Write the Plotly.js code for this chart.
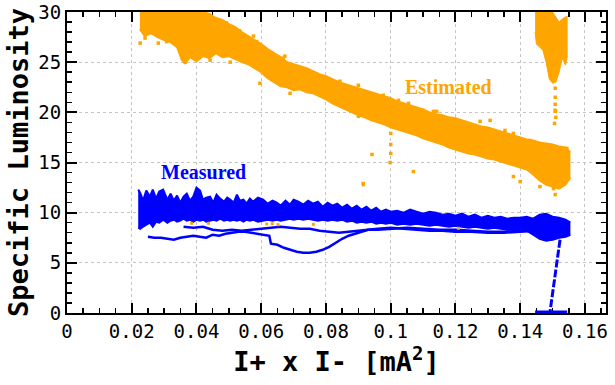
<!DOCTYPE html>
<html>
<head>
<meta charset="utf-8">
<script src="https://cdn.plot.ly/plotly-3.0.1.min.js"></script>
<style>html,body{margin:0;padding:0;background:#fff;}#chart{width:615px;height:385px;}</style>
</head>
<body>
<div id="chart"></div>
<script>
// ---- Estimated (orange) dense band: x, lower edge, upper edge ----
const estX = [0.0225,0.0240,0.0260,0.0280,0.0300,0.0320,0.0340,0.0355,0.0365,0.0380,0.0400,0.0420,0.0440,0.0460,0.0480,0.0500,0.0520,0.0540,0.0560,0.0580,0.0600,0.0620,0.0640,0.0660,0.0680,0.0700,0.0720,0.0740,0.0760,0.0780,0.0800,0.0820,0.0840,0.0860,0.0880,0.0900,0.0920,0.0940,0.0960,0.0980,0.1000,0.1020,0.1040,0.1060,0.1080,0.1100,0.1120,0.1140,0.1160,0.1180,0.1200,0.1220,0.1240,0.1260,0.1280,0.1300,0.1320,0.1340,0.1360,0.1380,0.1400,0.1420,0.1440,0.1460,0.1480,0.1500,0.1520,0.1540,0.1555];
const estUpper = [30,30,30,30,30,30,30,30,30,30,30,30,29.8,29.4,29.2,28.8,28.5,28.0,27.6,27.2,26.8,26.3,25.9,25.5,25.0,24.8,24.6,24.4,24.1,23.8,23.6,23.3,23.0,22.8,22.6,22.4,22.2,22.0,21.8,21.6,21.4,21.1,20.9,20.7,20.5,20.3,20.0,19.8,19.7,19.5,19.4,19.2,19.0,18.8,18.6,18.5,18.3,18.1,17.9,17.7,17.5,17.3,17.2,17.0,16.9,16.8,16.6,16.5,16.0];
const estLower = [28.3,27.6,27.9,27.5,27.2,27.0,26.5,25.2,24.9,25.5,25.1,25.6,25.4,25.9,25.5,25.6,25.3,25.0,24.8,24.4,24.0,23.4,23.0,22.6,22.5,22.2,22.3,22.0,21.9,21.6,21.3,20.9,20.6,20.3,20.0,19.7,19.5,19.2,19.0,18.8,18.5,18.3,18.1,17.9,17.7,17.4,17.2,17.0,16.8,16.5,16.3,16.1,15.9,15.8,15.6,15.4,15.3,15.1,14.9,14.7,14.5,14.3,13.8,13.2,12.8,12.6,12.4,12.8,13.5];

// scattered estimated points outside the dense band
const estDotX = [0.0226,0.0241,0.0282,0.0308,0.0365,0.0442,0.0504,0.0493,0.0534,0.0560,0.0576,0.0586,0.0627,0.0668,0.0648,0.0596,0.0673,0.0689,0.0843,0.0900,0.0977,0.1024,0.1055,0.1100,0.1132,0.0900,0.1000,0.1000,0.1000,0.0998,0.0942,0.0915,0.1070,0.1142,0.1276,0.1307,0.1353,0.1379,0.1430,0.1379,0.1400,0.1503,0.1508,0.1461,0.1544,0.1508,0.1508,0.1508,0.1508,0.1510,0.1506,0.1509];
const estDotY = [26.9,27.4,26.9,27.05,25.0,25.2,25.0,28.9,28.1,27.4,27.6,27.05,25.4,25.4,24.9,22.9,25.6,21.9,23.1,22.7,21.7,21.2,20.9,20.2,20.1,19.6,17.9,16.8,15.9,15.0,15.8,12.9,14.1,20.1,19.1,19.2,18.2,17.9,17.2,13.6,13.1,12.4,11.8,12.6,16.4,22.4,21.5,20.8,20.2,19.5,18.9,20.1];

// spike of estimated points near the end (outline)
const spikeX = [0.1446,0.1480,0.1500,0.1520,0.1530,0.1545,0.1545,0.1540,0.1530,0.1520,0.1510,0.1500,0.1490,0.1480,0.1470,0.1460,0.1450,0.1446];
const spikeY = [30,30,30,29.0,29.3,29.6,25.5,24.7,25.4,24.0,23.0,22.9,23.3,25.0,26.2,26.5,26.8,28.0];

// estimated points lying near the measured band
const estLowX = [0.0385,0.0437,0.0617,0.0634,0.0652,0.0761,0.0915,0.1209];
const estLowY = [8.94,8.94,8.87,8.9,8.8,8.84,12.76,8.44];

// ---- Measured (blue) main band ----
const measX = [0.0220,0.0226,0.0235,0.0245,0.0256,0.0265,0.0275,0.0285,0.0297,0.0310,0.0320,0.0330,0.0340,0.0350,0.0360,0.0370,0.0380,0.0390,0.0400,0.0411,0.0420,0.0430,0.0442,0.0452,0.0462,0.0473,0.0485,0.0495,0.0504,0.0515,0.0525,0.0534,0.0545,0.0555,0.0565,0.0575,0.0590,0.0606,0.0620,0.0635,0.0648,0.0660,0.0675,0.0689,0.0700,0.0715,0.0730,0.0745,0.0760,0.0775,0.0790,0.0805,0.0820,0.0835,0.0850,0.0865,0.0880,0.0895,0.0910,0.0925,0.0940,0.0955,0.0970,0.0985,0.1000,0.1020,0.1040,0.1060,0.1080,0.1100,0.1120,0.1140,0.1160,0.1180,0.1200,0.1220,0.1240,0.1260,0.1280,0.1300,0.1320,0.1340,0.1360,0.1380,0.1400,0.1420,0.1440,0.1460,0.1480,0.1500,0.1520,0.1540,0.1555];
const measUpper = [12.3,12.0,11.2,12.2,11.6,12.3,11.4,12.1,12.3,11.3, 11.9,11.2,11.7,11.0,11.6,11.9,11.2,11.6,12.5,12.2, 11.3,11.5,11.6,11.0,11.8,11.4,11.1,11.5,11.3,11.0, 11.8,11.2,11.3,10.9,11.4,11.1,11.5,11.3,10.9,11.2, 11.0,10.7,11.2,10.8,11.3,11.1,10.8,11.2,10.9,11.1, 10.6,11.0,10.7,10.9,10.5,10.8,10.4,10.7,10.3,10.6, 10.2,10.5,10.1,10.3,10.1,10.2,10.0,10.3,10.1,9.9, 10.1,10.0,9.8,9.9,9.7,9.9,9.6,9.8,9.5,9.7, 9.5,9.6,9.4,9.5,9.5,9.6,9.4,9.8,9.9,9.6, 9.5,9.3,9.0];
const measLower = [8.5,8.4,8.6,8.8,9.0,8.6,9.1,9.0,9.3,9.0, 9.2,9.3,9.1,9.2,9.4,9.2,9.3,9.1,9.3,9.2, 9.3,9.1,9.2,9.3,9.2,9.4,9.2,9.3,9.2,9.3, 9.2,9.3,9.1,9.3,9.2,9.3,9.1,9.2,9.3,9.2, 9.3,9.2,9.3,9.4,9.3,9.4,9.3,9.4,9.3,9.2, 9.3,9.2,9.3,9.2,9.3,9.1,9.2,9.0,9.1,9.0, 9.1,8.9,9.0,8.9,9.0,8.8,8.9,8.8,8.9,8.8, 8.7,8.8,8.7,8.6,8.7,8.6,8.5,8.6,8.5,8.4, 8.5,8.4,8.3,8.4,8.3,8.2,7.8,7.4,7.2,7.3, 7.5,7.6,7.8];

// measured thin tracks below the main band
const trackAX = [0.0360,0.0390,0.0420,0.0450,0.0480,0.0510,0.0540,0.0570,0.0600,0.0630,0.0660,0.0690,0.0720,0.0750,0.0780,0.0810,0.0840,0.0870,0.0900,0.0930,0.0960,0.1000,0.1050,0.1100,0.1150,0.1200,0.1250,0.1300,0.1350,0.1400];
const trackAY = [8.6,8.5,8.6,8.3,8.2,8.3,8.2,8.3,8.4,8.5,8.6,8.5,8.4,8.4,8.2,8.1,8.0,8.1,8.2,8.3,8.3,8.4,8.5,8.4,8.3,8.3,8.2,8.1,8.1,8.2];
const trackBX = [0.0250,0.0270,0.0290,0.0310,0.0330,0.0350,0.0370,0.0390,0.0410,0.0430,0.0450,0.0470,0.0490,0.0510,0.0530,0.0550,0.0570,0.0590,0.0610,0.0625,0.0630,0.0650,0.0670,0.0690,0.0710,0.0730,0.0750,0.0770,0.0790,0.0810,0.0830,0.0850,0.0870,0.0890,0.0910,0.0930,0.0960,0.1000,0.1040,0.1080,0.1120,0.1160,0.1200,0.1250,0.1300,0.1350,0.1400,0.1450];
const trackBY = [7.6,7.5,7.5,7.4,7.3,7.5,7.6,7.7,7.6,7.5,7.8,7.7,7.9,8.0,8.1,8.1,8.0,7.9,7.8,7.7,6.9,6.8,6.5,6.3,6.1,6.0,6.0,6.1,6.3,6.6,7.0,7.4,7.7,7.9,8.1,8.3,8.4,8.5,8.4,8.3,8.2,8.2,8.1,8.1,8.0,8.0,8.1,8.2];
const dropX = [0.1523,0.1515,0.1505,0.1498,0.1492];
const dropY = [7.3,5.5,3.5,1.8,0.1];
const baseX = [0.1446,0.1545];
const baseY = [0.1,0.1];

// ---- axis ticks ----
const xTickVals = [0,0.02,0.04,0.06,0.08,0.1,0.12,0.14,0.16];
const xTickText = ['0','0.02','0.04','0.06','0.08','0.1','0.12','0.14','0.16'];
const yTickVals = [0,5,10,15,20,25,30];
const yTickText = ['0','5','10','15','20','25','30'];

const ORANGE = '#FFA500', BLUE = '#0000FF';
const traces = [
  {x: estX, y: estLower, mode:'lines', line:{color:ORANGE, width:2}, hoverinfo:'skip'},
  {x: estX, y: estUpper, mode:'lines', line:{color:ORANGE, width:2}, fill:'tonexty', fillcolor:ORANGE, hoverinfo:'skip'},
  {x: spikeX, y: spikeY, mode:'lines', line:{color:ORANGE, width:1}, fill:'toself', fillcolor:ORANGE, hoverinfo:'skip'},
  {x: estDotX, y: estDotY, mode:'markers', marker:{color:ORANGE, size:3.5, symbol:'square'}, hoverinfo:'skip'},
  {x: measX, y: measLower, mode:'lines', line:{color:BLUE, width:2}, hoverinfo:'skip'},
  {x: measX, y: measUpper, mode:'lines', line:{color:BLUE, width:2}, fill:'tonexty', fillcolor:BLUE, hoverinfo:'skip'},
  {x: trackAX, y: trackAY, mode:'lines', line:{color:BLUE, width:2.5}, hoverinfo:'skip'},
  {x: trackBX, y: trackBY, mode:'lines', line:{color:BLUE, width:2.5}, hoverinfo:'skip'},
  {x: dropX, y: dropY, mode:'lines', line:{color:BLUE, width:3, dash:'8px,2px'}, hoverinfo:'skip'},
  {x: baseX, y: baseY, mode:'lines', line:{color:BLUE, width:3}, hoverinfo:'skip', cliponaxis:false},
  {x: estLowX, y: estLowY, mode:'markers', marker:{color:ORANGE, size:3, symbol:'square'}, hoverinfo:'skip'}
];

const tickFont = {family:'DejaVu Sans Mono', size:19, color:'#000'};
const layout = {
  width:615, height:385,
  margin:{l:67, r:9, t:12, b:72},
  paper_bgcolor:'#fff', plot_bgcolor:'#fff',
  showlegend:false,
  xaxis:{
    range:[0,0.1665], tickmode:'array', tickvals:xTickVals, ticktext:xTickText,
    ticks:'inside', ticklen:10, tickwidth:2, tickcolor:'#000',
    showline:true, linewidth:2, linecolor:'#000', mirror:'allticks',
    showgrid:true, gridcolor:'#c4c4c4', gridwidth:1, griddash:'dot',
    zeroline:false, tickfont:tickFont, layer:'below traces',
    minor:{dtick:0.005, tick0:0, ticks:'inside', ticklen:5, tickwidth:1.5, tickcolor:'#000', showgrid:false},
    title:{text:'I+ x I- [mA<sup>2</sup>]', font:{family:'DejaVu Sans Mono', size:27, color:'#000', weight:'bold'}, standoff:6}
  },
  yaxis:{
    range:[0,30], tickmode:'array', tickvals:yTickVals, ticktext:yTickText,
    ticks:'inside', ticklen:10, tickwidth:2, tickcolor:'#000',
    showline:true, linewidth:2, linecolor:'#000', mirror:'allticks',
    showgrid:true, gridcolor:'#c4c4c4', gridwidth:1, griddash:'dot',
    zeroline:false, tickfont:tickFont, layer:'below traces',
    minor:{dtick:1, tick0:0, ticks:'inside', ticklen:5, tickwidth:1.5, tickcolor:'#000', showgrid:false},
    title:{text:'Specific Luminosity', font:{family:'DejaVu Sans Mono', size:27, color:'#000', weight:'bold'}, standoff:2}
  },
  annotations:[
    {x:0.1177, y:22.5, xref:'x', yref:'y', text:'<b>Estimated</b>', showarrow:false, font:{family:'Liberation Serif', size:20, color:ORANGE}},
    {x:0.0423, y:14.05, xref:'x', yref:'y', text:'<b>Measured</b>', showarrow:false, font:{family:'Liberation Serif', size:20, color:BLUE}}
  ]
};
Plotly.newPlot('chart', traces, layout, {staticPlot:true, displayModeBar:false});
</script>
</body>
</html>
